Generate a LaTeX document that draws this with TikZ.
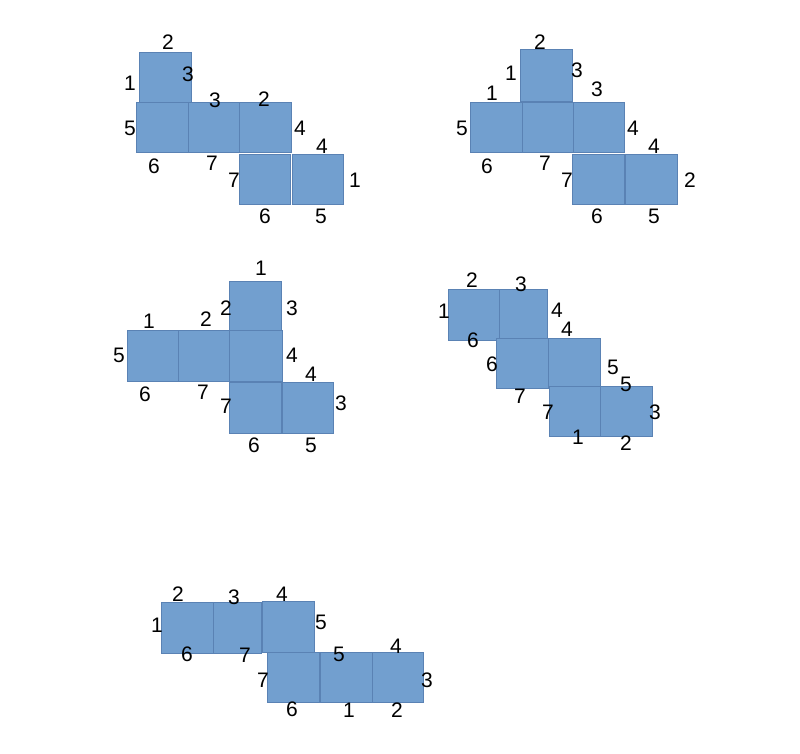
\documentclass[tikz,border=0pt]{standalone}
\usepackage{fontspec}
\setmainfont{Liberation Sans}
\begin{document}
\begin{tikzpicture}[x=1pt,y=-1pt,
  sq/.style={fill={rgb,255:red,114;green,159;blue,207},draw={rgb,255:red,90;green,130;blue,180},line width=0.6pt},
  lab/.style={inner sep=0pt,font=\fontsize{21}{23}\selectfont}]
\useasboundingbox (0,0) rectangle (800,754);
% Figure 1
\draw[sq] (139,52) rectangle (191,102);
\draw[sq] (136,102) rectangle (188,152);
\draw[sq] (188,102) rectangle (239,152);
\draw[sq] (239,102) rectangle (291,152);
\draw[sq] (239,154) rectangle (290,204);
\draw[sq] (292,154) rectangle (343,204);
\node[lab] (a1) at (168,42) {2};
\node[lab] (a2) at (130,83) {1};
\node[lab] (a3) at (188,74) {3};
\node[lab] (a4) at (215,100) {3};
\node[lab] (a5) at (264,99) {2};
\node[lab] (a6) at (130,128) {5};
\node[lab] (a7) at (300,128) {4};
\node[lab] (a8) at (154,166) {6};
\node[lab] (a9) at (212,163) {7};
\node[lab] (a10) at (322,146) {4};
\node[lab] (a11) at (234,180) {7};
\node[lab] (a12) at (355,180) {1};
\node[lab] (a13) at (265,216) {6};
\node[lab] (a14) at (321,216) {5};
% Figure 2
\draw[sq] (520,49) rectangle (572,101);
\draw[sq] (470,102) rectangle (522,152);
\draw[sq] (522,102) rectangle (573,152);
\draw[sq] (573,102) rectangle (624,152);
\draw[sq] (572,154) rectangle (624,204);
\draw[sq] (625,154) rectangle (677,204);
\node[lab] (b1) at (540,42) {2};
\node[lab] (b2) at (511,73) {1};
\node[lab] (b3) at (577,70) {3};
\node[lab] (b4) at (492,93) {1};
\node[lab] (b5) at (597,89) {3};
\node[lab] (b6) at (462,128) {5};
\node[lab] (b7) at (633,128) {4};
\node[lab] (b8) at (487,166) {6};
\node[lab] (b9) at (545,163) {7};
\node[lab] (b10) at (654,146) {4};
\node[lab] (b11) at (567,180) {7};
\node[lab] (b12) at (690,180) {2};
\node[lab] (b13) at (597,216) {6};
\node[lab] (b14) at (654,216) {5};
% Figure 3
\draw[sq] (229,281) rectangle (281,331);
\draw[sq] (127,330) rectangle (178,381);
\draw[sq] (178,330) rectangle (229,381);
\draw[sq] (229,330) rectangle (282,381);
\draw[sq] (229,382) rectangle (281,433);
\draw[sq] (282,382) rectangle (333,433);
\node[lab] (c1) at (261,268) {1};
\node[lab] (c2) at (226,308) {2};
\node[lab] (c3) at (292,308) {3};
\node[lab] (c4) at (149,321) {1};
\node[lab] (c5) at (206,319) {2};
\node[lab] (c6) at (119,355) {5};
\node[lab] (c7) at (292,355) {4};
\node[lab] (c8) at (145,394) {6};
\node[lab] (c9) at (203,392) {7};
\node[lab] (c10) at (311,374) {4};
\node[lab] (c11) at (226,406) {7};
\node[lab] (c12) at (341,403) {3};
\node[lab] (c13) at (254,445) {6};
\node[lab] (c14) at (311,445) {5};
% Figure 4
\draw[sq] (448,289) rectangle (499,340);
\draw[sq] (499,289) rectangle (547,340);
\draw[sq] (496,338) rectangle (548,388);
\draw[sq] (548,338) rectangle (600,388);
\draw[sq] (549,386) rectangle (600,436);
\draw[sq] (600,386) rectangle (652,436);
\node[lab] (d1) at (472,280) {2};
\node[lab] (d2) at (521,284) {3};
\node[lab] (d3) at (444,311) {1};
\node[lab] (d4) at (557,310) {4};
\node[lab] (d5) at (473,340) {6};
\node[lab] (d6) at (567,329) {4};
\node[lab] (d7) at (492,364) {6};
\node[lab] (d8) at (613,367) {5};
\node[lab] (d9) at (626,384) {5};
\node[lab] (d10) at (520,396) {7};
\node[lab] (d11) at (548,412) {7};
\node[lab] (d12) at (655,412) {3};
\node[lab] (d13) at (578,437) {1};
\node[lab] (d14) at (626,443) {2};
% Figure 5
\draw[sq] (161,602) rectangle (213,653);
\draw[sq] (213,602) rectangle (261,653);
\draw[sq] (262,601) rectangle (314,652);
\draw[sq] (267,652) rectangle (319,702);
\draw[sq] (320,652) rectangle (372,702);
\draw[sq] (372,652) rectangle (423,702);
\node[lab] (e1) at (178,594) {2};
\node[lab] (e2) at (234,597) {3};
\node[lab] (e3) at (282,594) {4};
\node[lab] (e4) at (157,625) {1};
\node[lab] (e5) at (321,622) {5};
\node[lab] (e6) at (187,654) {6};
\node[lab] (e7) at (245,655) {7};
\node[lab] (e8) at (339,654) {5};
\node[lab] (e9) at (396,646) {4};
\node[lab] (e10) at (263,680) {7};
\node[lab] (e11) at (427,680) {3};
\node[lab] (e12) at (292,709) {6};
\node[lab] (e13) at (349,710) {1};
\node[lab] (e14) at (397,710) {2};
\end{tikzpicture}
\end{document}
